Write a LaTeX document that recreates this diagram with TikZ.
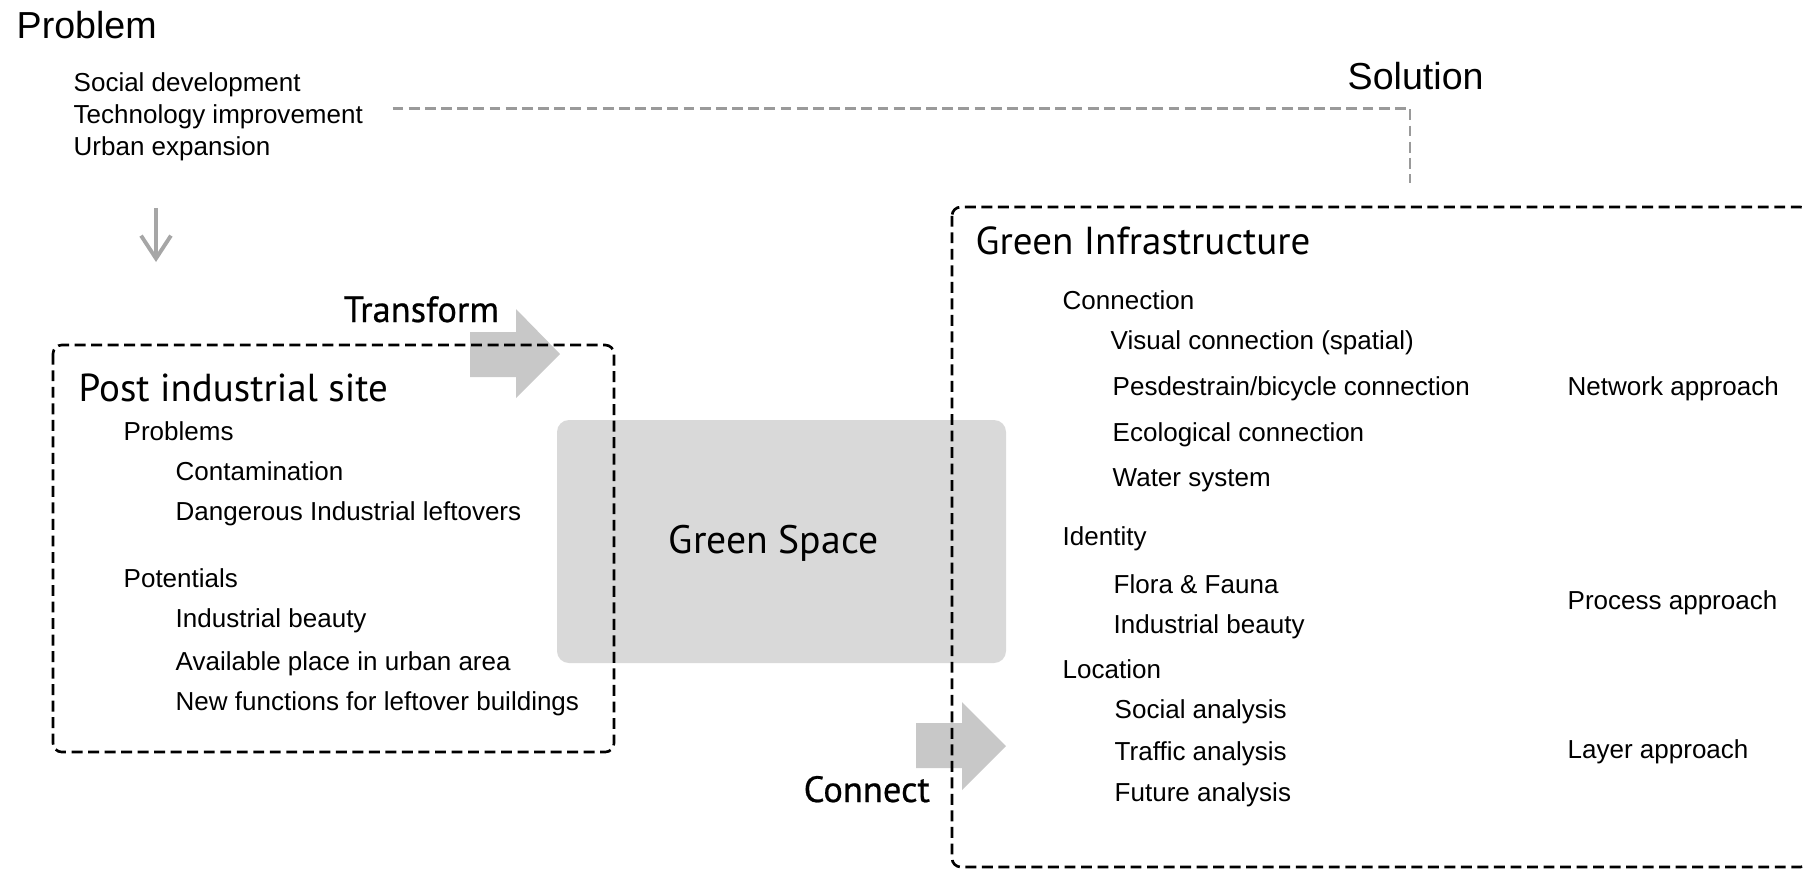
\documentclass[tikz,border=0pt]{standalone}
\usepackage{fontspec}
\setmainfont{Liberation Sans}
\newfontfamily\myriad{PT Sans}
\newfontfamily\myriadbold[FakeBold=0.6]{PT Sans}
\usetikzlibrary{arrows.meta}
\definecolor{spacegray}{HTML}{D9D9D9}
\definecolor{arrowgray}{HTML}{C8C8C8}
\definecolor{linkgray}{HTML}{9A9A9A}
\definecolor{downgray}{HTML}{A6A6A6}
\tikzset{
  item/.style={anchor=base west, inner sep=0pt, font=\fontsize{7.4}{9}\selectfont},
  bigitem/.style={anchor=base west, inner sep=0pt, font=\fontsize{10.7}{12}\selectfont},
  boxtitle/.style={anchor=base west, inner sep=0pt, font=\myriad\fontsize{11.1}{13}\selectfont},
  verb/.style={anchor=base west, inner sep=0pt, font=\myriadbold\fontsize{10.4}{12}\selectfont},
  dashbox/.style={draw=black, line width=0.75pt, dash pattern=on 3.1pt off 1.6pt, rounded corners=2.5pt},
  gaplink/.style={draw=linkgray, line width=0.7pt, dash pattern=on 3.1pt off 1.5pt},
  blockarrow/.style={fill=arrowgray},
}
\begin{document}
\begin{tikzpicture}[x=0.1mm, y=-0.1mm]
      \useasboundingbox (0,0) rectangle (1805,870);
      \draw
        (16,38) node[bigitem] (problem){Problem}
        (73,91) node[item] (social){Social development}
        (73,123) node[item] (tech){Technology improvement}
        (73,155) node[item] (urban){Urban expansion}
        (1347,89) node[bigitem] (solution){Solution};
      \draw
        (78,401) node[boxtitle] (post){Post industrial site}
        (123,440) node[item] (probs){Problems}
        (175,480) node[item] (contam){Contamination}
        (175,520) node[item] (danger){Dangerous Industrial leftovers}
        (123,587) node[item] (potent){Potentials}
        (175,627) node[item] (beauty){Industrial beauty}
        (175,670) node[item] (avail){Available place in urban area}
        (175,710) node[item] (newfunc){New functions for leftover buildings};
      \fill[blockarrow] (470,332) -- (516,332) -- (516,309) -- (560,354)
        -- (516,398) -- (516,377) -- (470,377) -- cycle;
      \fill[blockarrow] (916,723) -- (962,723) -- (962,702) -- (1006,746)
        -- (962,790) -- (962,768) -- (916,768) -- cycle;
      \node[fill=spacegray, rounded corners=3.4pt, minimum width=44.9mm,
        minimum height=24.3mm,
        label={[xshift=-0.8mm, yshift=-0.2mm, font=\myriad\fontsize{11.3}{13}\selectfont]center:Green Space}]
        (gspace) at (781.5,541.5) {};
      \draw
        (343,322) node[verb] (transform){Transform}
        (803,802) node[verb] (connect){Connect};
      \draw
        (975,254) node[boxtitle] (gi){Green Infrastructure}
        (1062,309) node[item] (conn){Connection}
        (1110,349) node[item] (visual){Visual connection (spatial)}
        (1112,395) node[item] (pedbike){Pesdestrain/bicycle connection}
        (1112,441) node[item] (eco){Ecological connection}
        (1112,486) node[item] (water){Water system}
        (1062,545) node[item] (ident){Identity}
        (1113,593) node[item] (flora){Flora \& Fauna}
        (1113,633) node[item] (indbeauty){Industrial beauty}
        (1062,678) node[item] (loc){Location}
        (1114,718) node[item] (socan){Social analysis}
        (1114,760) node[item] (traffic){Traffic analysis}
        (1114,801) node[item] (future){Future analysis}
        (1567,395) node[item] (network){Network approach}
        (1567,609) node[item] (process){Process approach}
        (1567,758) node[item] (layer){Layer approach};
      \draw[dashbox] (53,345) rectangle (614,752);
      \draw[dashbox] (952,207) rectangle (1809,867);
      \coordinate (solend) at (1410,183);
      \coordinate (downtop) at (156,208);
      \coordinate (downtip) at (156,262);
      \begin{scope}[-]
        \draw[gaplink] ([shift={(29,-8)}]tech.east) -| (solend);
        \draw[downgray, line width=1.1pt, -{Straight Barb[length=6.5pt,width=8.5pt]}]
          (downtop) -- (downtip);
      \end{scope}
    \end{tikzpicture}
\end{document}
